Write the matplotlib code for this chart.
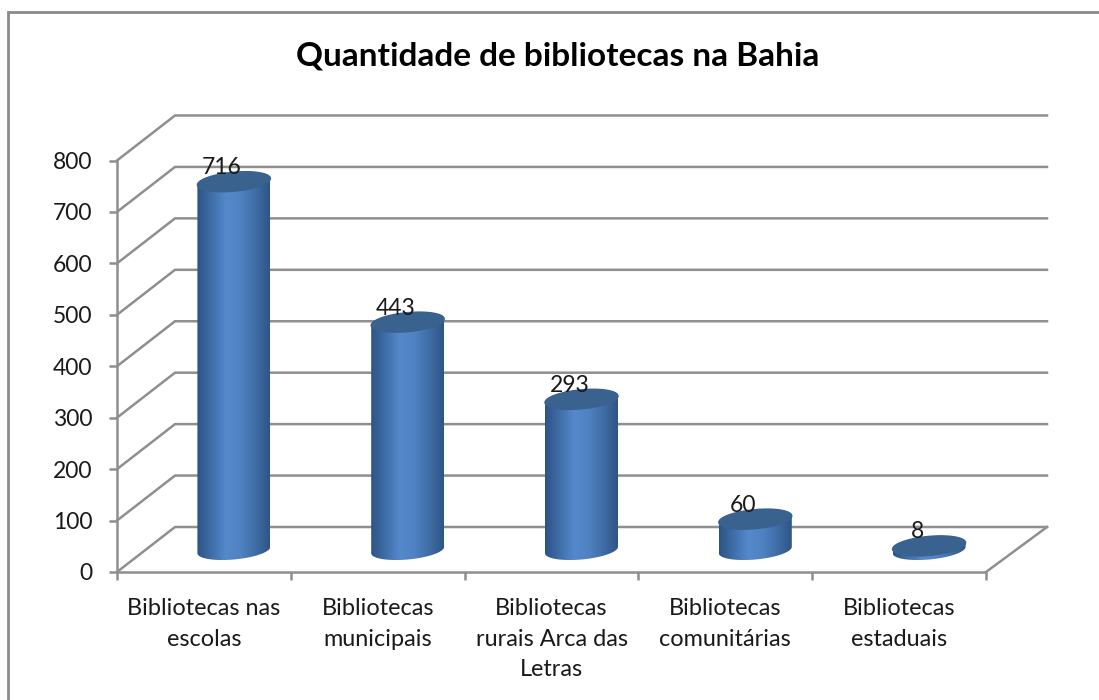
# Quantidade de bibliotecas na Bahia - colunas cilíndricas com aparência 3D

import numpy as np
import matplotlib
matplotlib.use('Agg')
import matplotlib.pyplot as plt
from matplotlib.colors import LinearSegmentedColormap
from matplotlib.patches import Polygon

plt.rcParams['font.family'] = ['Lato', 'Open Sans', 'DejaVu Sans']

# Dados
categorias = ['Bibliotecas nas\nescolas', 'Bibliotecas\nmunicipais',
              'Bibliotecas\nrurais Arca das\nLetras', 'Bibliotecas\ncomunitárias',
              'Bibliotecas\nestaduais']
valores = [716, 443, 293, 60, 8]
y_ticks = [0, 100, 200, 300, 400, 500, 600, 700, 800]

# Layout (pixels da figura)
W, H = 1099, 700
x0, x1 = 117, 986
y0, y1 = 572, 160.5
fig = plt.figure(figsize=(W/100, H/100), dpi=100)
ax = fig.add_axes([x0/W, 1 - y0/H, (x1 - x0)/W, (y0 - y1)/H])
ax.patch.set_alpha(0)

# Profundidade 3D em unidades dos eixos
px_x = (x1 - x0) / len(valores)
px_y = (y0 - y1) / 800
dx = 58 / px_x
dy = 45 / px_y

cinza = '#8f8f8f'
x_fim = len(valores)

# Grade das paredes
for v in y_ticks:
    ax.plot([0, dx, x_fim + 61/px_x], [v, v + dy, v + dy], color=cinza, lw=1.8,
            clip_on=False, zorder=1, solid_joinstyle='miter')
ax.plot([x_fim, x_fim + 61/px_x], [0, dy], color=cinza, lw=1.8, clip_on=False, zorder=1)

# Eixos
for s_nome in ['top', 'right']:
    ax.spines[s_nome].set_visible(False)
for s_nome in ['left', 'bottom']:
    ax.spines[s_nome].set_color(cinza)
    ax.spines[s_nome].set_linewidth(1.8)
ax.set_yticks(y_ticks)
ax.set_xticks(range(len(valores) + 1))
ax.set_xticklabels([])
ax.tick_params(axis='both', color=cinza, width=1.8, length=6)
ax.tick_params(axis='y', labelsize=16.5, labelcolor='#1a1a1a', pad=11.5)

# Rótulos das categorias
for i, cat in enumerate(categorias):
    ax.annotate(cat, (i + 0.5, 0), xytext=(0, -18.5), textcoords='offset points',
                ha='center', va='top', fontsize=16.9, color='#1a1a1a', linespacing=1.58)

# Cilindros
cmap = LinearSegmentedColormap.from_list('cil', ['#2d5384', '#3f6ea8', '#5589cc', '#4f82c2',
                                                 '#3f6da6', '#2f5584'])
grad = np.linspace(0, 1, 256).reshape(1, -1)
a = 36.5 / px_x
b = 9.5 / px_y
s = 3.2 / px_y
t = np.linspace(0, 2*np.pi, 121)
base = 22 / px_y

for i, v in enumerate(valores):
    cx = i + 0.5 + dx/2 + 1/px_x
    # corpo: meia elipse de baixo + meia elipse de cima
    t_baixo = np.linspace(np.pi, 2*np.pi, 60)
    t_cima = np.linspace(0, np.pi, 60)
    xs = np.r_[cx + a*np.cos(t_baixo), cx + a*np.cos(t_cima)]
    ys = np.r_[base + b*np.sin(t_baixo) + s*np.cos(t_baixo),
               base + v + b*np.sin(t_cima) + s*np.cos(t_cima)]
    corpo = Polygon(np.c_[xs, ys], closed=True, transform=ax.transData, fc='none', ec='none')
    ax.add_patch(corpo)
    im = ax.imshow(grad, cmap=cmap, aspect='auto', zorder=3,
                   extent=[cx - a, cx + a, base - b - s, base + v + b + s])
    im.set_clip_path(corpo)
    # tampa
    ax.fill(cx + a*np.cos(t), base + v + b*np.sin(t) + s*np.cos(t), color='#39628f',
            zorder=4, clip_on=False)
    # valor
    ax.annotate(str(v), (cx, base + v), xytext=(-8.5, 2.5), textcoords='offset points',
                ha='center', va='bottom', fontsize=16.5, color='#1a1a1a', zorder=5)

ax.set_xlim(0, len(valores))
ax.set_ylim(0, 800)

# Título
fig.text(558/W, 1 - 56/H, 'Quantidade de bibliotecas na Bahia', ha='center', va='center',
         fontsize=24, fontweight='bold', color='black')

# Moldura (sem lado direito)
fig.add_artist(plt.Line2D([7.5/W, 7.5/W, 1], [0, 1 - 11.5/H, 1 - 11.5/H],
                          color='#8a8a8a', lw=2, solid_joinstyle='miter'))

plt.savefig('out.png', dpi=100, facecolor='white')
